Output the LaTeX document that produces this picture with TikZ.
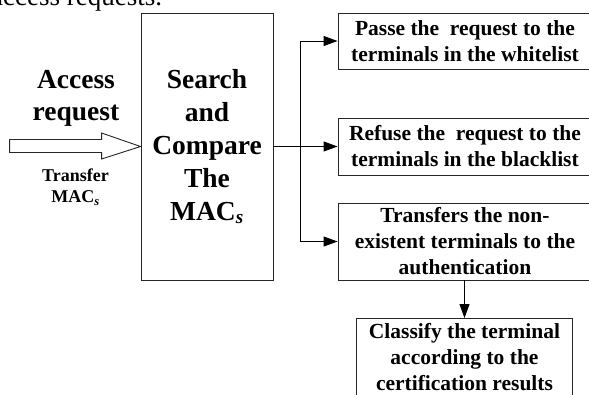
\documentclass[tikz,border=0pt]{standalone}
\usepackage{fontspec}
\setmainfont{Liberation Serif}
\usetikzlibrary{arrows.meta}

\tikzset{
  box/.style={draw=black!85, line width=0.9pt, inner sep=0pt, align=center,
    font=\fontsize{21.5}{26}\selectfont\bfseries},
  bigbox/.style={draw=black!85, line width=0.9pt, inner sep=0pt, align=center,
    font=\fontsize{27.5}{33}\selectfont\bfseries},
  bigtext/.style={inner sep=0pt, align=center,
    font=\fontsize{27.5}{32}\selectfont\bfseries},
  smalltext/.style={inner sep=0pt, align=center,
    font=\fontsize{18}{21}\selectfont\bfseries},
  link/.style={line width=0.9pt, draw=black},
  arr/.style={link, -{Triangle[length=14pt,width=10pt]}},
  hollow/.style={line width=0.9pt, draw=black!85, fill=white}
}

\begin{document}
\begin{tikzpicture}[x=1pt, y=-1pt]
\useasboundingbox (0,0) rectangle (589,394);
\clip (0,0) rectangle (589,394);

% running text above the figure
\node[inner sep=0pt, anchor=base west, font=\fontsize{27}{32}\selectfont]
  (caption) at (-9,5) {access requests.};

% central search/compare block
\node[bigbox, minimum width=132pt, minimum height=267pt] (cmp) at (207,146.5)
  {Search\\and\\Compare\\The\\MAC\textsubscript{\itshape s}};

% input side
\node[bigtext] (access) at (76,98) {Access\\request};
\node[smalltext] (mac) at (75.5,187) {Transfer\\MAC\textsubscript{\itshape s}};
\draw[hollow] (cmp.west) -- ++(-39,-13.5) -- ++(0,6.5) -- ++(-92,0)
  -- ++(0,13) -- ++(92,0) -- ++(0,6.5) -- cycle;

% outcome boxes
\node[box, minimum width=254pt, minimum height=56pt] (pass) at (465,41)
  {Passe the\ \ request to the\\terminals in the whitelist};
\node[box, minimum width=254pt, minimum height=57pt] (refuse) at (465,146.5)
  {Refuse the\ \ request to the\\terminals in the blacklist};
\node[box, minimum width=254pt, minimum height=77pt] (transfer) at (465,241.5)
  {Transfers the non-\\existent terminals to the\\authentication};
\node[box, minimum width=216pt, minimum height=77pt] (classify) at (464.5,357)
  {Classify the terminal\\according to the\\certification results};

% connectors
\coordinate (split) at (300,146.5);
\draw[link] (cmp.east) -- (split);
\draw[arr] (split) |- (pass.west);
\draw[arr] (split) -- (refuse.west);
\draw[arr] (split) |- (transfer.west);
\draw[arr] (transfer.south -| classify.north) -- (classify.north);
\end{tikzpicture}
\end{document}
